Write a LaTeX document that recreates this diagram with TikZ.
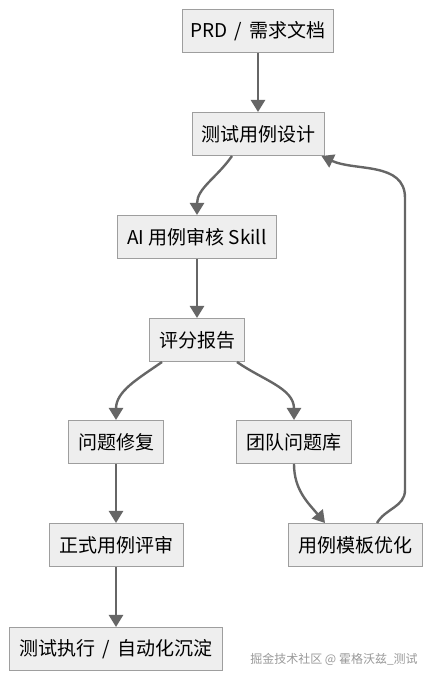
\documentclass[tikz,border=0pt]{standalone}
\usepackage{fontspec}
\setmainfont{Noto Sans CJK SC}
\usetikzlibrary{arrows.meta}
\definecolor{boxfill}{HTML}{EEEEEE}
\definecolor{boxline}{HTML}{9E9E9E}
\definecolor{flowgray}{HTML}{666666}
\tikzset{
  box/.style={draw=boxline, fill=boxfill, line width=1pt, minimum height=43pt, inner sep=0pt, font=\fontsize{19}{22}\selectfont},
  flow/.style={-{Triangle[length=12pt,width=14pt]}, draw=flowgray, line width=2.4pt},
}
\begin{document}
\begin{tikzpicture}[x=1pt,y=1pt]
                \useasboundingbox (0,0) rectangle (432,680);
                \node[box, minimum width=151pt] (prd) at (258,649) {PRD \,/\, 需求文档};
                \node[box, minimum width=132pt] (design) at (258,546) {测试用例设计};
                \node[box, minimum width=159pt] (ai) at (197,443) {AI 用例审核 Skill};
                \node[box, minimum width=95pt] (report) at (197,340) {评分报告};
                \node[box, minimum width=95pt] (fix) at (116,238) {问题修复};
                \node[box, minimum width=115pt] (pool) at (294,238) {团队问题库};
                \node[box, minimum width=134pt] (review) at (116,135) {正式用例评审};
                \node[box, minimum width=134pt] (tmpl) at (355,135) {用例模板优化};
                \node[box, minimum width=213pt] (exec) at (116,31) {测试执行 \,/\, 自动化沉淀};
                \node[text=black!40, font=\fontsize{12}{14}\selectfont] (mark) at (334,21) {掘金技术社区 @ 霍格沃兹\_测试};

                \coordinate (railLo) at (405,190);
                \coordinate (railHi) at (405,482);

                \path (prd) edge [flow] (design);
                \path ([xshift=-26pt]design.south) edge [flow,out=-125,in=90] (ai.north);
                \path (ai) edge [flow] (report);
                \path ([xshift=-35pt]report.south) edge [flow,out=-145,in=90] (fix.north);
                \path ([xshift=40pt]report.south) edge [flow,out=-35,in=90] (pool.north);
                \path (fix) edge [flow] (review);
                \path (review) edge [flow] (exec);
                \path (pool.south) edge [flow,out=-90,in=130] ([xshift=-30pt]tmpl.north);
                \draw [flow] ([xshift=22pt]tmpl.north) to [out=60,in=-90] (railLo) -- (railHi) to [out=90,in=-25] ([xshift=-3pt]design.south east);
            \end{tikzpicture}
\end{document}
